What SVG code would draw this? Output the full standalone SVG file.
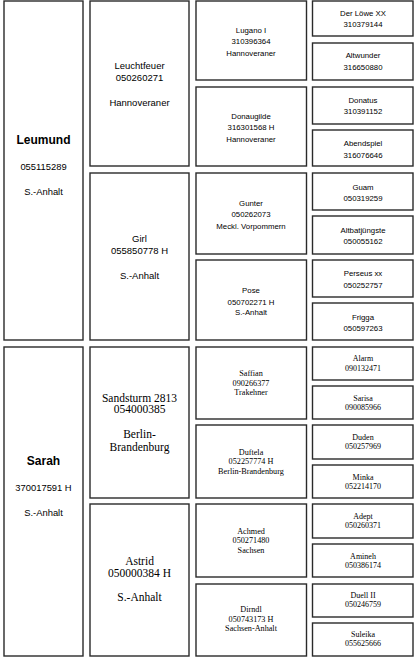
<svg xmlns="http://www.w3.org/2000/svg" width="420" height="659" viewBox="0 0 420 659">
<style>
rect{fill:#fff;stroke:#2a2a2a;stroke-width:1.4}
text{fill:#000;text-anchor:middle;dominant-baseline:central}
.s{font-family:"Liberation Sans",Arial,sans-serif}
.r{font-family:"Liberation Serif","Times New Roman",serif}
.n1{font-size:12px;font-weight:bold}
.t1{font-size:9.4px}
.t2{font-size:9.5px}
.t3{font-size:7.8px}
.r2{font-size:11.5px}
.r3{font-size:8.2px}
.r4{font-size:8px}
</style>
<rect x="0" y="0" width="420" height="659" style="fill:#fff;stroke:none"/>
<g id="connectors"/>
<g id="leumund"><rect x="4" y="1" width="79" height="339"/>
<text class="s n1" x="43.5" y="140">Leumund</text><text class="s t1" x="43.5" y="166">055115289</text><text class="s t1" x="43.5" y="191">S.-Anhalt</text></g>
<g id="sarah"><rect x="4" y="347" width="79" height="309"/>
<text class="s n1" x="43.5" y="461">Sarah</text><text class="s t1" x="43.5" y="487">370017591 H</text><text class="s t1" x="43.5" y="512">S.-Anhalt</text></g>

<g id="leuchtfeuer"><rect x="90" y="1" width="99" height="165"/>
<text class="s t2" x="139.5" y="65">Leuchtfeuer</text><text class="s t2" x="139.5" y="77">050260271</text><text class="s t2" x="139.5" y="102">Hannoveraner</text></g>
<g id="girl"><rect x="90" y="173" width="99" height="167"/>
<text class="s t2" x="139.5" y="238">Girl</text><text class="s t2" x="139.5" y="250">055850778 H</text><text class="s t2" x="139.5" y="275">S.-Anhalt</text></g>
<g id="sandsturm"><rect x="90" y="347" width="99" height="151"/>
<text class="r r2" x="139.5" y="398">Sandsturm 2813</text><text class="r r2" x="139.5" y="409">054000385</text><text class="r r2" x="139.5" y="434">Berlin-</text><text class="r r2" x="139.5" y="447">Brandenburg</text></g>
<g id="astrid"><rect x="90" y="504" width="99" height="152"/>
<text class="r r2" x="139.5" y="561">Astrid</text><text class="r r2" x="139.5" y="573">050000384 H</text><text class="r r2" x="139.5" y="597">S.-Anhalt</text></g>

<g id="lugano"><rect x="196" y="1" width="110.5" height="79"/>
<text class="s t3" x="251" y="30">Lugano  I</text><text class="s t3" x="251" y="41">310396364</text><text class="s t3" x="251" y="53">Hannoveraner</text></g>
<g id="donaugilde"><rect x="196" y="87" width="110.5" height="79"/>
<text class="s t3" x="251" y="116">Donaugilde</text><text class="s t3" x="251" y="127">316301568 H</text><text class="s t3" x="251" y="139">Hannoveraner</text></g>
<g id="gunter"><rect x="196" y="173" width="110.5" height="81"/>
<text class="s t3" x="251" y="203">Gunter</text><text class="s t3" x="251" y="214">050262073</text><text class="s t3" x="251" y="226">Meckl. Vorpommern</text></g>
<g id="pose"><rect x="196" y="260" width="110.5" height="80"/>
<text class="s t3" x="251" y="290">Pose</text><text class="s t3" x="251" y="302">050702271 H</text><text class="s t3" x="251" y="312">S.-Anhalt</text></g>
<g id="saffian"><rect x="196" y="347" width="110.5" height="72"/>
<text class="r r3" x="251" y="373">Saffian</text><text class="r r3" x="251" y="383">090266377</text><text class="r r3" x="251" y="392">Trakehner</text></g>
<g id="duftela"><rect x="196" y="425" width="110.5" height="73"/>
<text class="r r3" x="251" y="452">Duftela</text><text class="r r3" x="251" y="461">052257774  H</text><text class="r r3" x="251" y="471">Berlin-Brandenburg</text></g>
<g id="achmed"><rect x="196" y="504" width="110.5" height="73"/>
<text class="r r3" x="251" y="531">Achmed</text><text class="r r3" x="251" y="540">050271480</text><text class="r r3" x="251" y="550">Sachsen</text></g>
<g id="dirndl"><rect x="196" y="584" width="110.5" height="72"/>
<text class="r r3" x="251" y="609">Dirndl</text><text class="r r3" x="251" y="619">050743173  H</text><text class="r r3" x="251" y="628">Sachsen-Anhalt</text></g>

<g id="derloewe"><rect x="312.5" y="1" width="100.5" height="35"/>
<text class="s t3" x="363" y="13">Der Löwe XX</text><text class="s t3" x="363" y="24">310379144</text></g>
<g id="altwunder"><rect x="312.5" y="43" width="100.5" height="37"/>
<text class="s t3" x="363" y="55">Altwunder</text><text class="s t3" x="363" y="67">316650880</text></g>
<g id="donatus"><rect x="312.5" y="87" width="100.5" height="37"/>
<text class="s t3" x="363" y="100">Donatus</text><text class="s t3" x="363" y="111">310391152</text></g>
<g id="abendspiel"><rect x="312.5" y="130" width="100.5" height="36"/>
<text class="s t3" x="363" y="143">Abendspiel</text><text class="s t3" x="363" y="155">316076646</text></g>
<g id="guam"><rect x="312.5" y="173" width="100.5" height="37"/>
<text class="s t3" x="363" y="187">Guam</text><text class="s t3" x="363" y="198">050319259</text></g>
<g id="altbatjuengste"><rect x="312.5" y="216" width="100.5" height="38"/>
<text class="s t3" x="363" y="230">Altbatjüngste</text><text class="s t3" x="363" y="241">050055162</text></g>
<g id="perseus"><rect x="312.5" y="260" width="100.5" height="37"/>
<text class="s t3" x="363" y="273">Perseus  xx</text><text class="s t3" x="363" y="285">050252757</text></g>
<g id="frigga"><rect x="312.5" y="303" width="100.5" height="37"/>
<text class="s t3" x="363" y="317">Frigga</text><text class="s t3" x="363" y="328">050597263</text></g>
<g id="alarm"><rect x="312.5" y="347" width="100.5" height="33"/>
<text class="r r4" x="363" y="358">Alarm</text><text class="r r4" x="363" y="368">090132471</text></g>
<g id="sarisa"><rect x="312.5" y="386" width="100.5" height="33"/>
<text class="r r4" x="363" y="398">Sarisa</text><text class="r r4" x="363" y="407">090085966</text></g>
<g id="duden"><rect x="312.5" y="425" width="100.5" height="34"/>
<text class="r r4" x="363" y="437">Duden</text><text class="r r4" x="363" y="446">050257969</text></g>
<g id="minka"><rect x="312.5" y="465" width="100.5" height="33"/>
<text class="r r4" x="363" y="477">Minka</text><text class="r r4" x="363" y="486">052214170</text></g>
<g id="adept"><rect x="312.5" y="504" width="100.5" height="34"/>
<text class="r r4" x="363" y="516">Adept</text><text class="r r4" x="363" y="525">050260371</text></g>
<g id="amineh"><rect x="312.5" y="544" width="100.5" height="33"/>
<text class="r r4" x="363" y="556">Amineh</text><text class="r r4" x="363" y="565">050386174</text></g>
<g id="duell"><rect x="312.5" y="584" width="100.5" height="33"/>
<text class="r r4" x="363" y="595">Duell II</text><text class="r r4" x="363" y="604">050246759</text></g>
<g id="suleika"><rect x="312.5" y="623" width="100.5" height="33"/>
<text class="r r4" x="363" y="634">Suleika</text><text class="r r4" x="363" y="643">055625666</text></g>
</svg>
